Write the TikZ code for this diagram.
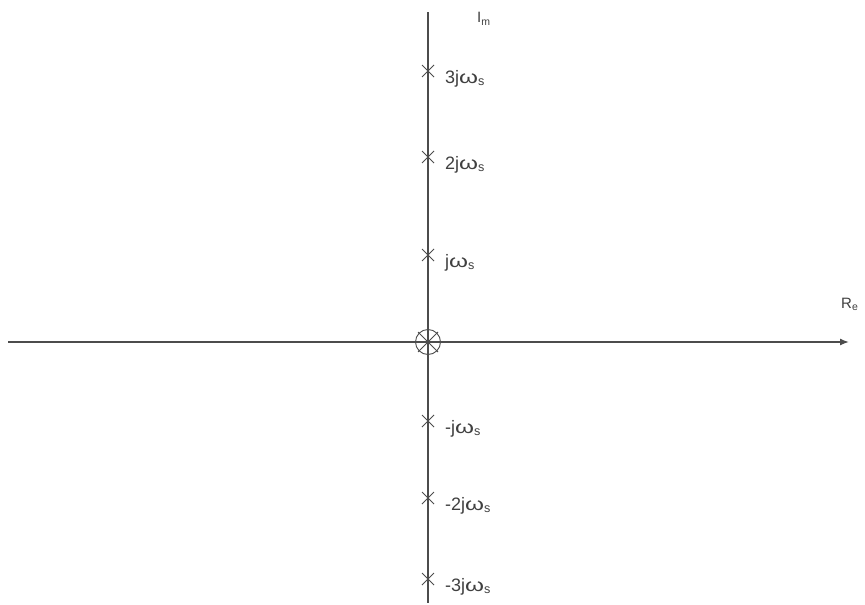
\documentclass[tikz,border=0pt]{standalone}
\usepackage{fontspec}
\setmainfont{Liberation Sans}
\usetikzlibrary{arrows.meta,calc}
\newcommand{\wom}{\scalebox{1.35}[1]{ω}}
\begin{document}
\begin{tikzpicture}[x=1pt,y=-1pt,
  axis/.style={draw=black!70,line width=1.4pt},
  pole/.style={draw=black!70,line width=0.8pt},
  lbl/.style={anchor=base west,font=\fontsize{18}{20}\selectfont,text=black!75,inner sep=0pt},
  axlbl/.style={anchor=base west,font=\fontsize{15}{17}\selectfont,text=black!75,inner sep=0pt}]
\useasboundingbox (0,0) rectangle (865,605);
\coordinate (vtop) at (428,12);
\coordinate (vbot) at (428,603);
\coordinate (hl) at (8,342);
\coordinate (hr) at (849,342);
\draw[axis] (vtop) -- (vbot);
\draw[axis,-{Latex[length=9pt,width=7pt]}] (hl) -- (hr);
\node[axlbl] (im) at (477,23) {I\textsubscript{m}};
\node[axlbl] (re) at (841,308) {R\textsubscript{e}};
% origin pole/zero
\coordinate (oc) at (428,342);
\node[circle,draw=black!70,line width=0.9pt,minimum size=25pt,inner sep=0pt] (o) at (oc) {};
\draw[pole] ($(oc)+(-10,-10)$) -- ($(oc)+(10,10)$) ($(oc)+(-10,10)$) -- ($(oc)+(10,-10)$);
\foreach \y/\t [count=\i] in {71/3j,157/2j,255/j,421/-j,498/-2j,579/-3j}{
  \coordinate (p\i) at (428,\y);
  \draw[pole] ($(p\i)+(-6,-6)$) -- ($(p\i)+(6,6)$) ($(p\i)+(-6,6)$) -- ($(p\i)+(6,-6)$);
  \node[lbl] (l\i) at (445,\y+12) {\t\wom\textsubscript{s}};
}
\end{tikzpicture}
\end{document}
